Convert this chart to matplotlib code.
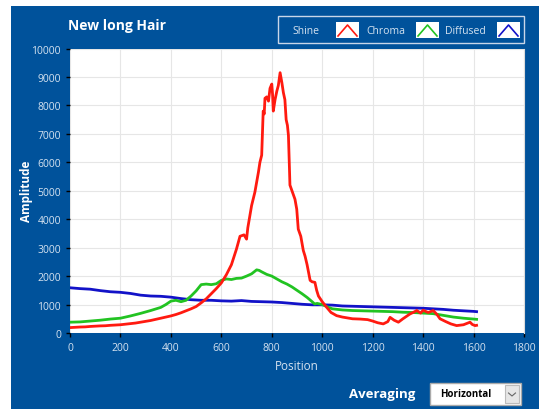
import matplotlib as mpl
import matplotlib.pyplot as plt
from matplotlib.patches import Rectangle

# ---- data ----
red_x = [0, 20, 40, 60, 80, 100, 120, 140, 160, 180, 200, 220, 240, 260, 280, 300,
         320, 340, 360, 380, 400, 420, 440, 460, 480, 500, 520, 540, 560, 580, 600,
         620, 640, 660, 674, 690, 700, 705, 720, 733, 747, 753, 760, 766, 770, 773,
         780, 787, 793, 800, 803, 806, 813, 820, 826, 833, 840, 846, 852, 857, 862,
         866, 870, 872, 880, 892, 899, 905, 915, 925, 932, 940, 952, 960, 971, 978,
         985, 1000, 1018, 1035, 1057, 1080, 1100, 1120, 1150, 1180, 1200, 1220, 1242,
         1260, 1269, 1285, 1302, 1320, 1348, 1360, 1375, 1390, 1400, 1420, 1440, 1455,
         1467, 1490, 1510, 1533, 1560, 1586, 1595, 1606, 1612]
red_y = [190, 200, 210, 215, 230, 240, 250, 255, 270, 280, 290, 310, 330, 350, 380, 410,
         440, 480, 520, 560, 600, 650, 710, 780, 850, 930, 1060, 1200, 1380, 1560, 1760,
         2050, 2400, 2950, 3400, 3450, 3300, 3700, 4480, 4950, 5650, 6000, 6250, 7800, 7700, 8250,
         8300, 8150, 8600, 8750, 8400, 7800, 8200, 8500, 8700, 9150, 8800, 8450, 8200, 7500, 7300,
         6950, 5800, 5200, 5000, 4700, 4350, 3650, 3400, 2900, 2700, 2400, 1850, 1800, 1780, 1500,
         1300, 1100, 900, 720, 610, 560, 530, 500, 490, 470, 420, 360, 320,
         400, 550, 450, 380, 500, 670, 720, 790, 700, 800, 720, 790, 650,
         500, 400, 320, 260, 290, 380, 300, 260, 270]

green_x = [0, 40, 80, 120, 160, 200, 240, 280, 320, 360, 380, 400, 420, 440, 460, 480,
           500, 520, 540, 560, 580, 600, 620, 640, 660, 680, 700, 720, 740, 750, 760,
           780, 800, 820, 840, 860, 880, 900, 920, 940, 960, 970, 980, 1000, 1020, 1040,
           1080, 1120, 1160, 1200, 1240, 1280, 1320, 1360, 1400, 1440, 1480, 1520, 1560,
           1600, 1612]
green_y = [380, 390, 420, 450, 490, 520, 600, 690, 790, 900, 1000, 1120, 1150, 1100, 1150, 1300,
           1480, 1700, 1720, 1700, 1730, 1850, 1900, 1880, 1920, 1930, 2000, 2080, 2220, 2200, 2150,
           2060, 2000, 1900, 1800, 1720, 1620, 1500, 1380, 1250, 1100, 1020, 1040, 1000, 920, 850,
           810, 790, 780, 770, 760, 750, 730, 720, 700, 680, 620, 560, 520,
           490, 480]

blue_x = [0, 40, 80, 120, 160, 200, 240, 280, 320, 360, 400, 440, 480, 520, 560, 600,
          640, 680, 720, 760, 800, 840, 880, 920, 960, 1000, 1040, 1080, 1120, 1160, 1200,
          1240, 1280, 1320, 1360, 1400, 1440, 1480, 1520, 1560, 1600, 1612]
blue_y = [1590, 1560, 1540, 1490, 1450, 1430, 1390, 1330, 1300, 1290, 1260, 1210, 1170, 1150, 1150, 1130,
          1120, 1140, 1110, 1100, 1090, 1070, 1040, 1010, 990, 990, 980, 950, 940, 930, 920,
          910, 900, 890, 880, 870, 850, 830, 800, 780, 760, 750]

x_ticks = list(range(0, 1801, 200))
y_ticks = list(range(0, 10001, 1000))

# ---- style ----
BG = '#00529B'
LIGHT = '#D5E2F0'
RED = '#FF1A10'
GREEN = '#22C322'
BLUE = '#1212C8'

mpl.rcParams['font.family'] = ['Open Sans', 'DejaVu Sans']

W, H = 539, 410
fig = plt.figure(figsize=(W / 100, H / 100), dpi=100)
fig.patch.set_facecolor('white')

# blue panel behind everything
fig.patches.append(Rectangle((11 / W, 0), 1 - 11 / W, (H - 7) / H,
                             transform=fig.transFigure, facecolor=BG,
                             edgecolor='none', zorder=-5))

ax = fig.add_axes([70 / W, (H - 334) / H, (524 - 70) / W, (334 - 49.5) / H])
ax.set_zorder(2)
ax.set_facecolor('white')

ax.plot(blue_x, blue_y, color=BLUE, lw=2, zorder=3)
ax.plot(green_x, green_y, color=GREEN, lw=2, zorder=3)
ax.plot(red_x, red_y, color=RED, lw=2, zorder=4)

ax.set_xlim(0, 1800)
ax.set_ylim(0, 10000)
ax.set_xticks(x_ticks)
ax.set_yticks(y_ticks)
ax.grid(True, color='#E6E6E6', lw=0.8, zorder=0)
ax.tick_params(colors='black', labelcolor=LIGHT, labelsize=7.5, length=3, width=1)
for s in ax.spines.values():
    s.set_visible(False)
ax.spines['right'].set_visible(True)
ax.spines['right'].set_color('#DDDDDD')

ax.set_xlabel('Position', color=LIGHT, fontsize=8.5, labelpad=4)
ax.set_ylabel('Amplitude', color='white', fontsize=8.5, fontweight='bold', labelpad=-1)

# title
fig.text(68 / W, 1 - 26 / H, 'New long Hair', color='white', fontsize=10,
         fontweight='bold', va='center', ha='left')

# legend box drawn by hand to keep the label / swatch order of the original
fig.patches.append(Rectangle((278 / W, 1 - 44 / H), (524 - 278) / W, 27 / H,
                             transform=fig.transFigure, facecolor='none',
                             edgecolor='#C8D6E8', lw=1, zorder=5))
legend_items = [('Shine', 292, 336, RED), ('Chroma', 366, 416, GREEN),
                ('Diffused', 445, 497, BLUE)]
for label, tx, sx, col in legend_items:
    fig.text(tx / W, 1 - 31 / H, label, color=LIGHT, fontsize=7.5, va='center', ha='left')
    fig.patches.append(Rectangle((sx / W, 1 - 39 / H), 23 / W, 16 / H,
                                 transform=fig.transFigure, facecolor='white',
                                 edgecolor='none', zorder=5))
    fig.lines.append(plt.Line2D([(sx + 2) / W, (sx + 11.5) / W, (sx + 21) / W],
                                [1 - 37 / H, 1 - 26 / H, 1 - 37 / H],
                                transform=fig.transFigure, color=col, lw=1.2, zorder=6))

# averaging selector
fig.text(349 / W, 1 - 395 / H, 'Averaging', color='white', fontsize=9.5,
         fontweight='bold', va='center', ha='left')
fig.patches.append(Rectangle((430 / W, 1 - 406 / H), 91 / W, 22 / H,
                             transform=fig.transFigure, facecolor='white',
                             edgecolor='#AAAAAA', lw=1, zorder=5))
fig.patches.append(Rectangle((505 / W, 1 - 404 / H), 14 / W, 18 / H,
                             transform=fig.transFigure, facecolor='#E6E6E6',
                             edgecolor='#BBBBBB', lw=0.8, zorder=6))
fig.lines.append(plt.Line2D([508.5 / W, 512 / W, 515.5 / W],
                            [1 - 394 / H, 1 - 397 / H, 1 - 394 / H],
                            transform=fig.transFigure, color='#666666', lw=0.8, zorder=7))
fig.text(440 / W, 1 - 395 / H, 'Horizontal', color='black', fontsize=7,
         fontweight='bold', va='center', ha='left', zorder=7)

fig.savefig('out.png', dpi=100, facecolor=fig.get_facecolor())
